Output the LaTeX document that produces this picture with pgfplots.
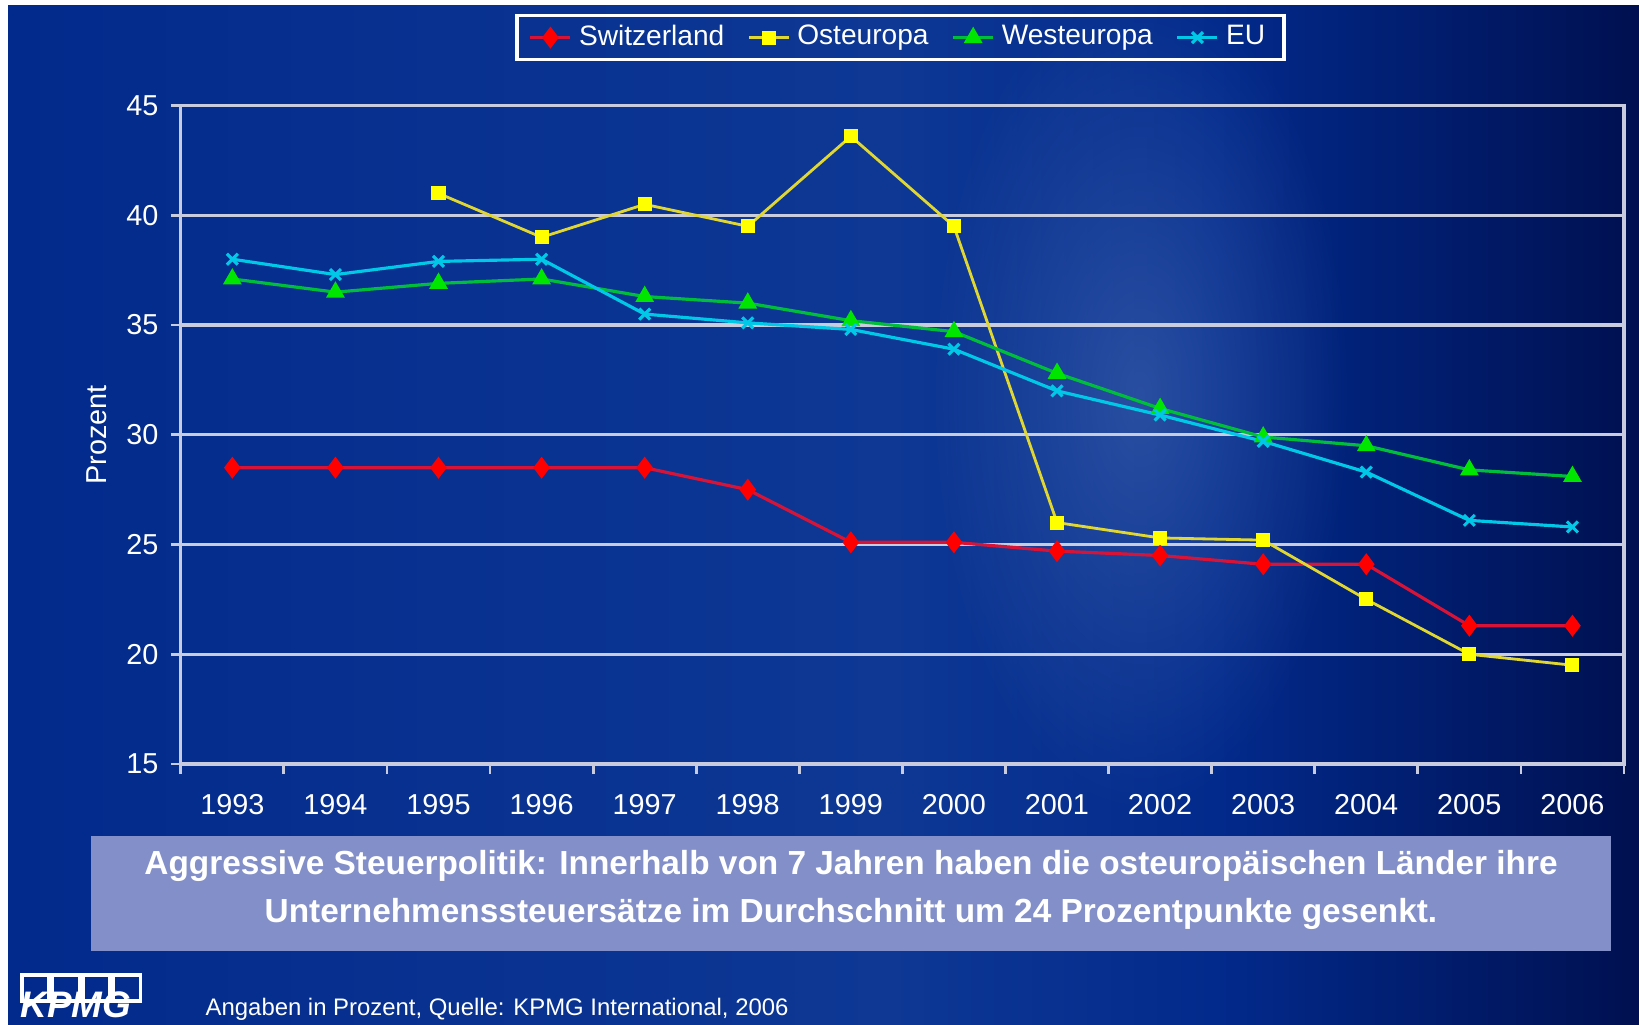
\documentclass[border=0pt]{standalone}
\usepackage{pgfplots}
\pgfplotsset{compat=1.18}
\usepackage{fontspec}
\setmainfont{Liberation Sans}
\usetikzlibrary{fadings}

\definecolor{bgleft}{RGB}{2,42,140}
\definecolor{bgmid}{RGB}{14,56,148}
\definecolor{bgright}{RGB}{0,16,80}
\definecolor{glow}{RGB}{85,120,185}
\definecolor{gridc}{RGB}{200,204,222}
\definecolor{capbox}{RGB}{131,143,200}
\definecolor{swline}{RGB}{215,20,55}
\definecolor{swmark}{RGB}{255,0,0}
\definecolor{osline}{RGB}{225,215,50}
\definecolor{osmark}{RGB}{255,255,0}
\definecolor{weline}{RGB}{0,190,60}
\definecolor{wemark}{RGB}{0,230,0}
\definecolor{euline}{RGB}{0,200,230}

\pgfdeclarehorizontalshading{bgshade}{100bp}{color(0bp)=(bgleft); color(25bp)=(bgleft); color(52bp)=(bgmid); color(62bp)=(bgleft); color(75bp)=(bgright); color(100bp)=(bgright)}
\tikzfading[name=glowfade, inner color=transparent!0, outer color=transparent!100]

\begin{document}
\begin{tikzpicture}
\path[use as bounding box] (0,0) rectangle (16.39,10.25);
\fill[white] (0,0) rectangle (16.39,10.25);
\shade[shading=bgshade] (0.08,0) rectangle (16.39,10.19);
\begin{scope}
\clip (0.08,0) rectangle (16.39,10.19);
\fill[glow, path fading=glowfade, fill opacity=0.45] (11.4,6.3) ellipse (2.1 and 4.2);
\end{scope}

\begin{axis}[
    at={(1.808cm,2.61cm)}, anchor=south west,
    scale only axis, width=14.432cm, height=6.584cm,
    xmin=1992.5, xmax=2006.5, ymin=15, ymax=45,
    xtick={1992.5,1993.5,...,2006.5}, xticklabels={},
    extra x ticks={1993,1994,...,2006},
    extra x tick style={tick style={draw=none}},
    ytick={15,20,...,45},
    /pgf/number format/1000 sep={},
    /pgf/number format/assume math mode=true,
    tick label style={font=\fontsize{8.2}{10}\selectfont, text=white},
    xticklabel style={yshift=-0.8mm},
    xtick pos=bottom, ytick pos=left, tick align=outside,
    major tick length=1mm,
    tick style={gridc, line width=0.8pt},
    axis line style={gridc, line width=0.9pt},
    ymajorgrids, major grid style={gridc, line width=0.9pt},
    ylabel={Prozent},
    ylabel style={at={(axis description cs:-0.0586,0.5)}, anchor=center, rotate=0, text=white, font=\fontsize{8.2}{10}\selectfont},
    legend columns=4,
    legend style={at={(0.4987,1.1033)}, anchor=center, draw=white, line width=1pt, fill=none,
        text=white, font=\fontsize{8}{9.6}\selectfont, inner xsep=1.2mm, inner ysep=0.2mm,
        /tikz/every even column/.append style={column sep=1.6mm}},
    legend image code/.code={\draw[mark repeat=2,mark phase=2,#1] plot coordinates {(0cm,0cm) (0.2cm,0cm) (0.4cm,0cm)};},
]
\addplot[swline, line width=0.9pt, mark=diamond*, mark size=2.4pt, mark options={fill=swmark, draw=swmark, solid}] coordinates {
(1993,28.5) (1994,28.5) (1995,28.5) (1996,28.5) (1997,28.5) (1998,27.5) (1999,25.1)
(2000,25.1) (2001,24.7) (2002,24.5) (2003,24.1) (2004,24.1) (2005,21.3) (2006,21.3)};
\addplot[osline, line width=0.8pt, mark=square*, mark size=1.6pt, mark options={fill=osmark, draw=osmark, solid}] coordinates {
(1995,41.0) (1996,39.0) (1997,40.5) (1998,39.5) (1999,43.6) (2000,39.5)
(2001,26.0) (2002,25.3) (2003,25.2) (2004,22.5) (2005,20.0) (2006,19.5)};
\addplot[weline, line width=0.9pt, mark=triangle*, mark size=2.2pt, mark options={fill=wemark, draw=wemark, solid}] coordinates {
(1993,37.1) (1994,36.5) (1995,36.9) (1996,37.1) (1997,36.3) (1998,36.0) (1999,35.2)
(2000,34.7) (2001,32.8) (2002,31.2) (2003,29.9) (2004,29.5) (2005,28.4) (2006,28.1)};
\addplot[euline, line width=0.9pt, mark=x, mark size=2.2pt, mark options={draw=euline, line width=0.9pt, solid}] coordinates {
(1993,38.0) (1994,37.3) (1995,37.9) (1996,38.0) (1997,35.5) (1998,35.1) (1999,34.8)
(2000,33.9) (2001,32.0) (2002,30.9) (2003,29.7) (2004,28.3) (2005,26.1) (2006,25.8)};
\legend{Switzerland, Osteuropa, Westeuropa, EU}
\end{axis}

\fill[capbox] (0.909,0.738) rectangle (16.108,1.888);
\node[text=white, font=\bfseries\fontsize{9.5}{13.7}\selectfont, align=center] at (8.51,1.354)
  {Aggressive Steuerpolitik: Innerhalb von 7 Jahren haben die osteuropäischen Länder ihre\\
   Unternehmenssteuersätze im Durchschnitt um 24 Prozentpunkte gesenkt.};

\node[anchor=base west, text=white, font=\fontsize{6.8}{8}\selectfont, inner sep=0pt] at (2.05,0.09)
  {Angaben in Prozent, Quelle: KPMG International, 2006};

\foreach \i in {0,1,2,3}
  \draw[white, line width=1.1pt] ({0.22+0.305*\i},0.24) rectangle ({0.49+0.305*\i},0.50);
\node[anchor=base west, text=white, font=\bfseries\itshape\fontsize{10.5}{12}\selectfont, inner sep=0pt] at (0.2,0.07) {KPMG};
\end{tikzpicture}
\end{document}
